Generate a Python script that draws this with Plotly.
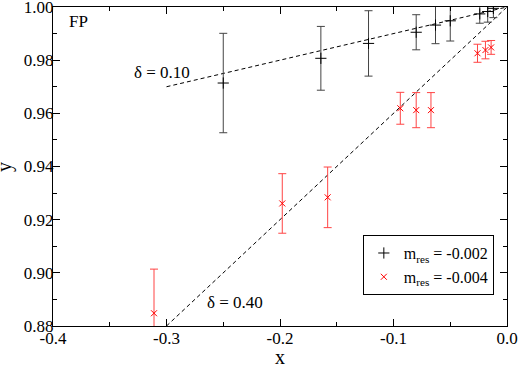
import plotly.graph_objects as go

# black series, m_res = -0.002
x_black = [-0.250, -0.164, -0.122, -0.080, -0.063, -0.050, -0.024, -0.017, -0.012]
y_black = [0.9714, 0.9807, 0.9863, 0.9905, 0.9932, 0.9948, 0.9974, 0.9983, 0.9995]
err_black = [0.0187, 0.0120, 0.0123, 0.0066, 0.0070, 0.0076, 0.0035, 0.0040, 0.0035]

# red series, m_res = -0.004
x_red = [-0.311, -0.198, -0.158, -0.094, -0.080, -0.067, -0.026, -0.019, -0.014]
y_red = [0.8848, 0.9261, 0.9284, 0.9619, 0.9612, 0.9612, 0.9826, 0.9838, 0.9848]
err_red = [0.0166, 0.0112, 0.0114, 0.0060, 0.0066, 0.0066, 0.0034, 0.0033, 0.0026]

# reference lines (delta = 0.10 and delta = 0.40)
line_x = [-0.3, 0.0]
line_010_y = [0.97, 1.0]
line_040_y = [0.88, 1.0]

x_ticks = [-0.4, -0.3, -0.2, -0.1, 0.0]
x_tick_labels = ["-0.4", "-0.3", "-0.2", "-0.1", "0.0"]
y_ticks = [0.88, 0.90, 0.92, 0.94, 0.96, 0.98, 1.00]
y_tick_labels = ["0.88", "0.90", "0.92", "0.94", "0.96", "0.98", "1.00"]

FONT = "Liberation Serif"

fig = go.Figure()

fig.add_trace(go.Scatter(x=line_x, y=line_010_y, mode="lines", showlegend=False,
                         line=dict(color="black", width=1, dash="4px,3px")))
fig.add_trace(go.Scatter(x=line_x, y=line_040_y, mode="lines", showlegend=False,
                         line=dict(color="black", width=1, dash="4px,3px")))

fig.add_trace(go.Scatter(
    x=x_black, y=y_black, mode="markers", name="m<sub>res</sub> = -0.002",
    marker=dict(symbol="cross-thin", size=8, color="black", line=dict(color="black", width=1)),
    error_y=dict(type="data", array=err_black, color="#444444", thickness=1, width=4),
))
fig.add_trace(go.Scatter(
    x=x_red, y=y_red, mode="markers", name="m<sub>res</sub> = -0.004",
    marker=dict(symbol="x-thin", size=6, color="red", line=dict(color="red", width=1)),
    error_y=dict(type="data", array=err_red, color="#ff4444", thickness=1, width=4),
))

fig.add_annotation(x=-0.304, y=0.9752, text="δ = 0.10", showarrow=False,
                   font=dict(size=17, family=FONT, color="black"))
fig.add_annotation(x=-0.2396, y=0.889, text="δ = 0.40", showarrow=False,
                   font=dict(size=17, family=FONT, color="black"))
fig.add_annotation(x=-0.388, y=0.9944, text="FP", showarrow=False, xanchor="left",
                   font=dict(size=17, family=FONT, color="black"))
# axis titles
fig.add_annotation(xref="paper", yref="paper", x=0.5, y=-0.097, text="x", showarrow=False,
                   xanchor="center", yanchor="middle",
                   font=dict(size=20, family=FONT, color="black"))
fig.add_annotation(xref="paper", yref="paper", x=-0.107, y=0.5, text="y", showarrow=False,
                   xanchor="center", yanchor="middle", textangle=-90,
                   font=dict(size=20, family=FONT, color="black"))

axis_common = dict(showline=True, linecolor="black", linewidth=1, mirror="ticks",
                   ticks="inside", ticklen=7, tickcolor="black", showgrid=False,
                   zeroline=False, automargin=False, ticklabeloverflow="allow",
                   tickfont=dict(size=17, family=FONT, color="black"))

fig.update_xaxes(range=[-0.4, 0.0], tickvals=x_ticks, ticktext=x_tick_labels,
                 minor=dict(ticks="inside", dtick=0.05, ticklen=4, tickcolor="black"),
                 ticklabelstandoff=-3, **axis_common)
fig.update_yaxes(range=[0.88, 1.0], tickvals=y_ticks, ticktext=y_tick_labels,
                 minor=dict(ticks="inside", dtick=0.01, ticklen=4, tickcolor="black"),
                 ticklabelstandoff=-5, **axis_common)

fig.update_layout(
    width=518, height=366,
    margin=dict(l=53, r=11, t=7, b=40),
    plot_bgcolor="white", paper_bgcolor="white",
    font=dict(family=FONT, color="black"),
    legend=dict(x=0.971, y=0.285, xanchor="right", yanchor="top",
                bordercolor="black", borderwidth=1, bgcolor="white",
                font=dict(size=16, family=FONT), tracegroupgap=0),
)

fig.write_html("out.html", config={"displayModeBar": False},
               post_script="document.body.style.margin='0';")
